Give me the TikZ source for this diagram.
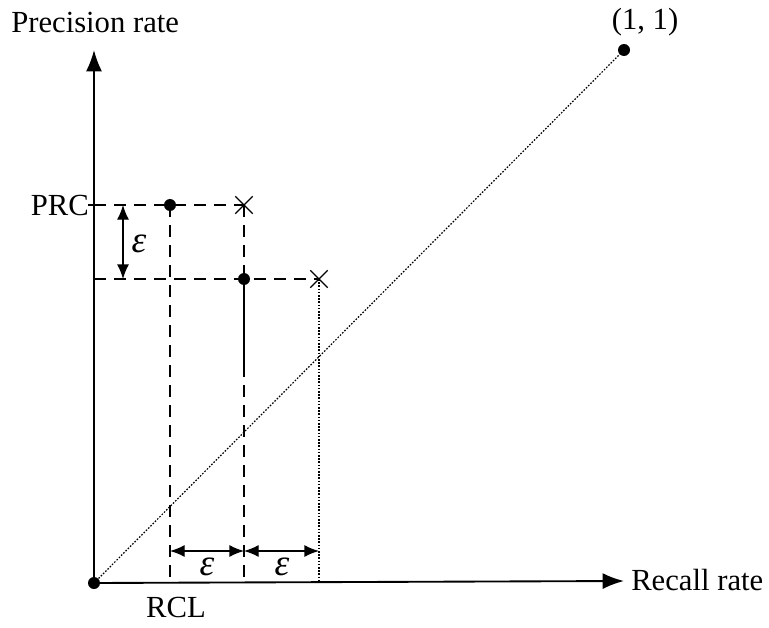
\documentclass[tikz,border=0pt]{standalone}
\usepackage{fontspec}
\setmainfont{Liberation Serif}
\usetikzlibrary{arrows.meta,shapes.misc}
\begin{document}
\begin{tikzpicture}[x=0.75pt,y=-0.75pt,
  lbl/.style={font=\fontsize{23}{27}\selectfont, inner sep=0pt},
  eps/.style={font=\fontsize{28}{32}\selectfont\itshape, inner sep=0pt},
  axis/.style={line width=1.4pt,-{Latex[length=16pt,width=12pt]}},
  dsh/.style={line width=1pt,dash pattern=on 9pt off 6pt},
  dtt/.style={line width=0.9pt,dash pattern=on 1.2pt off 1.2pt},
  dim/.style={line width=1pt,{Latex[length=11pt,width=9pt]}-{Latex[length=11pt,width=9pt]}},
  dot/.style={circle,fill=black,inner sep=0pt,minimum size=9pt},
  xmark/.style={cross out,draw,line width=1pt,inner sep=0pt,minimum size=12pt}]
\useasboundingbox (0,0) rectangle (769,628);
% points
\node[dot] (O) at (94,583) {};
\node[dot] (one) at (624,50) {};
\coordinate (ytip) at (94,50);
\coordinate (xtip) at (624,581);
\node[dot] (p1) at (170,205) {};
\node[dot] (p2) at (244,279) {};
\node[xmark] (x1) at (244,205) {};
\node[xmark] (x2) at (319,279) {};
\coordinate (yA) at (94,205);
\coordinate (yB) at (94,279);
\coordinate (a1) at (170,581);
\coordinate (a2) at (244,581);
\coordinate (a3) at (319,581);
\coordinate (m2) at (244,365);
% diagonal
\draw[dtt] (O.center) -- (one.center);
% dashed guides
\draw[dsh] (yA) -- (x1.center);
\draw[dsh] (yB) -- (x2.center);
\draw[dsh] (p1.center) -- (a1);
\draw[dsh] (x1.center) -- (a2);
\draw[line width=1pt] (p2.center) -- (m2);
\draw[dtt] (x2.center) -- (a3);
\draw[line width=1pt] (88,205) -- (yA);
% axes
\draw[axis] (O.center) -- (ytip);
\draw[axis] (O.center) -- (xtip);
% dims
\coordinate (e1) at (123,205);
\coordinate (e2) at (123,279);
\draw[dim] (e1) -- (e2);
\node[eps] (le) at (139,244) {ε};
\coordinate (h1) at (170,551);
\coordinate (h2) at (244,551);
\coordinate (h3) at (319,551);
\draw[dim] (h1) -- (h2);
\draw[dim] (h2) -- (h3);
\node[eps] (lh1) at (207,567) {ε};
\node[eps] (lh2) at (282,567) {ε};
% labels
\node[lbl,anchor=west] (tP) at (11,22) {Precision rate};
\node[lbl,anchor=west] (tR) at (631,580) {Recall rate};
\node[lbl,anchor=east] (tPRC) at (89,205) {PRC};
\node[lbl] (tRCL) at (176,607) {RCL};
\node[lbl] (t11) at (645,22) {(1, 1)};
\end{tikzpicture}
\end{document}
